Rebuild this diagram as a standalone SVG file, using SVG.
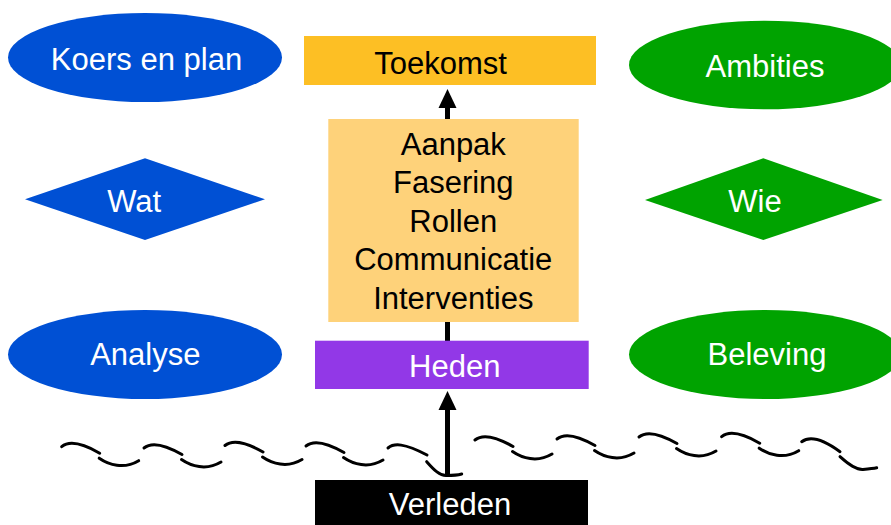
<svg xmlns="http://www.w3.org/2000/svg" xmlns:xlink="http://www.w3.org/1999/xlink" width="891" height="525" viewBox="0 0 891 525">
<style>
text{font-family:"Liberation Sans",Arial,sans-serif;font-size:31px;text-anchor:middle}
.w{fill:#fff}
.k{fill:#000}
.blue{fill:#0050D4}
.green{fill:#00A300}
.wave{fill:none;stroke:#000;stroke-width:3;stroke-linecap:round}
.shaft{stroke:#000;stroke-width:5;fill:none}
</style>
<defs>
<path id="tilde" d="M0,0 C6,-5 18,-5 38,6.5 M37.5,11.5 C47,18 62,23 77,14"/>
</defs>
<rect width="891" height="525" fill="#fff"/>
<g id="connectors">
<line class="shaft" x1="447.5" y1="119" x2="447.5" y2="106"/>
<polygon points="447.5,89 438.5,108 456.5,108"/>
<line class="shaft" x1="447.5" y1="321" x2="447.5" y2="342"/>
<line class="shaft" x1="447.5" y1="476" x2="447.5" y2="408"/>
<polygon points="447.5,391 438.5,410 456.5,410"/>
</g>
<g id="waves" class="wave">
<use href="#tilde" x="61.7" y="446.7"/>
<use href="#tilde" x="144" y="448"/>
<use href="#tilde" x="225" y="445.5"/>
<use href="#tilde" x="306" y="446"/>
<path d="M388,448 C394,443 404,443 427,455 M426.7,461.7 C434,470 440,476 446.7,475.5 C452,475.5 458,475 461.7,474"/>
<use href="#tilde" x="475" y="440"/>
<use href="#tilde" x="557" y="439"/>
<use href="#tilde" x="639" y="437"/>
<use href="#tilde" x="721.7" y="436.7"/>
<path d="M801.7,441.7 C808,437 820,437 840,451.7 M840,456.7 C848,464 856,470 863,469.5 C868,469 873,468.5 876.7,467.7"/>
</g>
<g id="koers">
<ellipse class="blue" cx="145" cy="57.5" rx="137" ry="44.5"/>
<text class="w" x="146.5" y="70">Koers en plan</text>
</g>
<g id="wat">
<polygon class="blue" points="25,199.3 145,158.3 265,199.3 145,240"/>
<text class="w" x="134.2" y="211.7">Wat</text>
</g>
<g id="analyse">
<ellipse class="blue" cx="145" cy="354.5" rx="137" ry="44.5"/>
<text class="w" x="145.3" y="365">Analyse</text>
</g>
<g id="ambities">
<ellipse class="green" cx="765" cy="65" rx="136" ry="44.3"/>
<text class="w" x="765" y="77.3">Ambities</text>
</g>
<g id="wie">
<polygon class="green" points="645,200 763.3,158.3 882.7,200 763.3,240"/>
<text class="w" x="755" y="211.7">Wie</text>
</g>
<g id="beleving">
<ellipse class="green" cx="765" cy="354.5" rx="136" ry="44.5"/>
<text class="w" x="767" y="365">Beleving</text>
</g>
<g id="toekomst">
<rect x="304" y="36" width="292" height="49" fill="#FDBF24"/>
<text class="k" x="440.5" y="74.3">Toekomst</text>
</g>
<g id="aanpak">
<rect x="328.3" y="119" width="250.4" height="203" fill="#FED27A"/>
<text class="k" x="453.3" y="155">Aanpak</text>
<text class="k" x="453.3" y="193">Fasering</text>
<text class="k" x="453.3" y="231.5">Rollen</text>
<text class="k" x="453.3" y="270">Communicatie</text>
<text class="k" x="453.3" y="308.5">Interventies</text>
</g>
<g id="heden">
<rect x="315" y="340.7" width="273.7" height="48.3" fill="#9238E7"/>
<text class="w" x="454.7" y="377.3">Heden</text>
</g>
<g id="verleden">
<rect x="315" y="480" width="273" height="45" fill="#000"/>
<text class="w" x="450" y="515">Verleden</text>
</g>
</svg>
